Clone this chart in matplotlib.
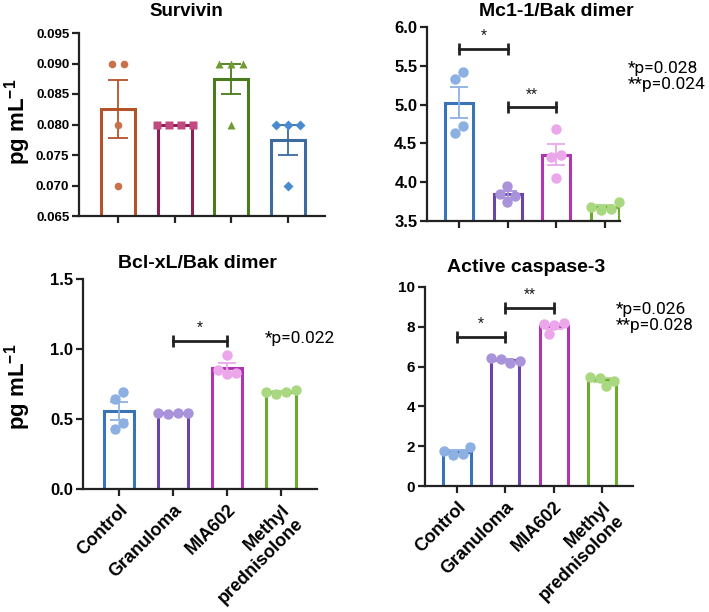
import numpy as np
import matplotlib
matplotlib.use('Agg')
import matplotlib.pyplot as plt

plt.rcParams['font.family'] = ['Liberation Sans', 'DejaVu Sans']
plt.rcParams['mathtext.fontset'] = 'custom'
plt.rcParams['mathtext.rm'] = 'Liberation Sans'
plt.rcParams['mathtext.bf'] = 'Liberation Sans:bold'

groups = ['Control', 'Granuloma', 'MIA602', 'Methyl\nprednisolone']

# values (4 samples per group)
survivin = [[0.090, 0.090, 0.080, 0.070],
            [0.080, 0.080, 0.080, 0.080],
            [0.090, 0.090, 0.090, 0.080],
            [0.080, 0.080, 0.080, 0.070]]
mcl1_bak = [[5.42, 5.33, 4.72, 4.63],
            [3.95, 3.85, 3.82, 3.75],
            [4.69, 4.35, 4.33, 4.05],
            [3.74, 3.68, 3.66, 3.64]]
bclxl_bak = [[0.69, 0.64, 0.47, 0.43],
             [0.535, 0.54, 0.545, 0.54],
             [0.96, 0.85, 0.83, 0.82],
             [0.71, 0.69, 0.68, 0.69]]
caspase3 = [[1.95, 1.75, 1.60, 1.55],
            [6.20, 6.30, 6.40, 6.45],
            [8.20, 8.15, 8.10, 7.65],
            [5.50, 5.45, 5.30, 5.05]]

mcl1_pvals = ['*p=0.028', '**p=0.024']
bclxl_pvals = ['*p=0.022']
casp_pvals = ['*p=0.026', '**p=0.028']

W, H = 709, 612
fig = plt.figure(figsize=(W / 100, H / 100), dpi=100)


def px_axes(x0, y0, x1, y1):
    return fig.add_axes([x0 / W, 1 - y1 / H, (x1 - x0) / W, (y1 - y0) / H])


def swarm(ax, vals, d):
    # simple beeswarm in pixel space, d = point spacing in px
    ys = ax.transData.transform([(0, v) for v in vals])[:, 1]
    xs = np.zeros(len(vals))
    placed = []
    for i in np.argsort(ys, kind='stable'):
        cands = [0.0]
        for j in placed:
            dy = ys[i] - ys[j]
            if abs(dy) < d:
                dx = np.sqrt(d * d - dy * dy)
                cands += [xs[j] + dx, xs[j] - dx]
        cands.sort(key=lambda c: (round(abs(c), 3), -c))
        for c in cands:
            if all((c - xs[j]) ** 2 + (ys[i] - ys[j]) ** 2 >= d * d * 0.98 for j in placed):
                xs[i] = c
                break
        placed.append(i)
    # centre each cluster
    order = np.argsort(ys)
    clusters, cur = [], [order[0]]
    for a, b in zip(order[:-1], order[1:]):
        if ys[b] - ys[a] < d:
            cur.append(b)
        else:
            clusters.append(cur)
            cur = [b]
    clusters.append(cur)
    for cl in clusters:
        mid = (xs[cl].max() + xs[cl].min()) / 2
        xs[cl] -= mid
    ppu = ax.transData.transform((1, 0))[0] - ax.transData.transform((0, 0))[0]
    return xs / ppu


def panel(ax, data, edges, dots, markers, errc, xlim, ylim, yticks, fmt,
          width, ms, spacing, tick_fs, capsize):
    ax.set_xlim(*xlim)
    ax.set_ylim(*ylim)
    for i, vals in enumerate(data):
        v = np.array(vals)
        m = v.mean()
        sem = v.std(ddof=1) / np.sqrt(len(v))
        ax.bar(i, m, width=width, color='white', edgecolor=edges[i],
               linewidth=2.2, zorder=2)
        ax.errorbar(i, m, yerr=sem, color=errc[i], elinewidth=1.3,
                    capsize=capsize, capthick=1.3, zorder=3)
        off = swarm(ax, v, spacing)
        ax.plot(i + off, v, linestyle='none', marker=markers[i], ms=ms,
                color=dots[i], mec='none', zorder=4, clip_on=False)
    for s in ['top', 'right']:
        ax.spines[s].set_visible(False)
    for s in ['left', 'bottom']:
        ax.spines[s].set_linewidth(1.6)
        ax.spines[s].set_color('#222222')
    ax.set_yticks(yticks)
    ax.set_yticklabels([fmt.format(t) for t in yticks], fontsize=tick_fs,
                       fontweight='bold')
    ax.set_xticks(range(4))
    ax.tick_params(width=1.6, length=5, color='#222222', pad=2)


def bracket(ax, i, j, y, stars):
    ax.plot([i, j], [y, y], color='#222222', lw=2, marker='|', ms=9,
            mew=2, zorder=5)
    ax.annotate(stars, (0.5 * (i + j), y), xytext=(0, 4),
                textcoords='offset points', ha='center', va='bottom',
                fontsize=10, family='Roboto', color='#222222')


# Survivin
ax1 = px_axes(79, 33, 325, 216)
panel(ax1, survivin,
      ['#b4532a', '#8c2153', '#4a7b1c', '#3c6b9c'],
      ['#c9714b', '#c24a80', '#6f9b34', '#4a8bd0'],
      ['o', 's', '^', 'D'],
      ['#b4532a', '#8c2153', '#4a7b1c', '#3c6b9c'],
      (-0.69, 3.65), (0.065, 0.095), np.arange(0.065, 0.0951, 0.005),
      '{:.3f}', 0.60, 5.5, 12, 9.5, 7)
ax1.set_xticklabels([])

# Mcl-1/Bak
ax2 = px_axes(427, 27, 620, 221)
cols_e = ['#3a74b8', '#6a45a9', '#b036b0', '#6aab30']
cols_d = ['#8db0e2', '#a993da', '#eca6ea', '#a9d880']
panel(ax2, mcl1_bak, cols_e, cols_d, ['o'] * 4, cols_d,
      (-0.657, 3.306), (3.5, 6.0), np.arange(3.5, 6.01, 0.5),
      '{:.1f}', 0.575, 7.5, 10, 12, 6.5)
ax2.set_xticklabels([])
bracket(ax2, 0, 1, 5.72, '*')
bracket(ax2, 1, 2, 4.97, '**')

# Bcl-xL/Bak
ax3 = px_axes(83, 279, 317, 489)
panel(ax3, bclxl_bak, cols_e, cols_d, ['o'] * 4, cols_d,
      (-0.667, 3.667), (0.0, 1.5), np.arange(0, 1.51, 0.5),
      '{:.1f}', 0.555, 7.5, 10, 12, 6.5)
bracket(ax3, 1, 2, 1.06, '*')

# Active caspase-3
ax4 = px_axes(425, 287, 633, 486)
panel(ax4, caspase3, cols_e, cols_d, ['o'] * 4, cols_d,
      (-0.663, 3.64), (0, 10), np.arange(0, 10.1, 2),
      '{:.0f}', 0.58, 7.5, 10, 11, 6.5)
bracket(ax4, 0, 1, 7.5, '*')
bracket(ax4, 1, 2, 8.95, '**')

for ax in (ax3, ax4):
    ax.set_xticklabels(groups, rotation=45, ha='right', va='top',
                       rotation_mode='anchor', fontsize=13,
                       fontweight='bold', multialignment='right')
    ax.tick_params(axis='x', pad=4)

# titles
fig.text(186 / W, 1 - 11 / H, 'Survivin', ha='center', va='center',
         fontsize=13.5, fontweight='bold')
fig.text(556 / W, 1 - 11 / H, 'Mc1-1/Bak dimer', ha='center', va='center',
         fontsize=14, fontweight='bold')
fig.text(197 / W, 1 - 263 / H, 'Bcl-xL/Bak dimer', ha='center', va='center',
         fontsize=14, fontweight='bold')
fig.text(526 / W, 1 - 268 / H, 'Active caspase-3', ha='center', va='center',
         fontsize=14, fontweight='bold')

# y labels
for yc in (122, 387):
    fig.text(18 / W, 1 - yc / H, r'pg mL$^{\mathbf{-1}}$', rotation=90,
             ha='center', va='center', fontsize=16, fontweight='bold')

# p-values
fig.text(628 / W, 1 - 76.5 / H, '\n'.join(mcl1_pvals), ha='left',
         va='center', fontsize=12.5, family='Roboto', linespacing=1.0)
fig.text(265 / W, 1 - 338 / H, bclxl_pvals[0], ha='left', va='center',
         fontsize=12.5, family='Roboto')
fig.text(616 / W, 1 - 317.5 / H, '\n'.join(casp_pvals), ha='left',
         va='center', fontsize=12.5, family='Roboto', linespacing=1.05)

fig.savefig('out.png', dpi=100)
